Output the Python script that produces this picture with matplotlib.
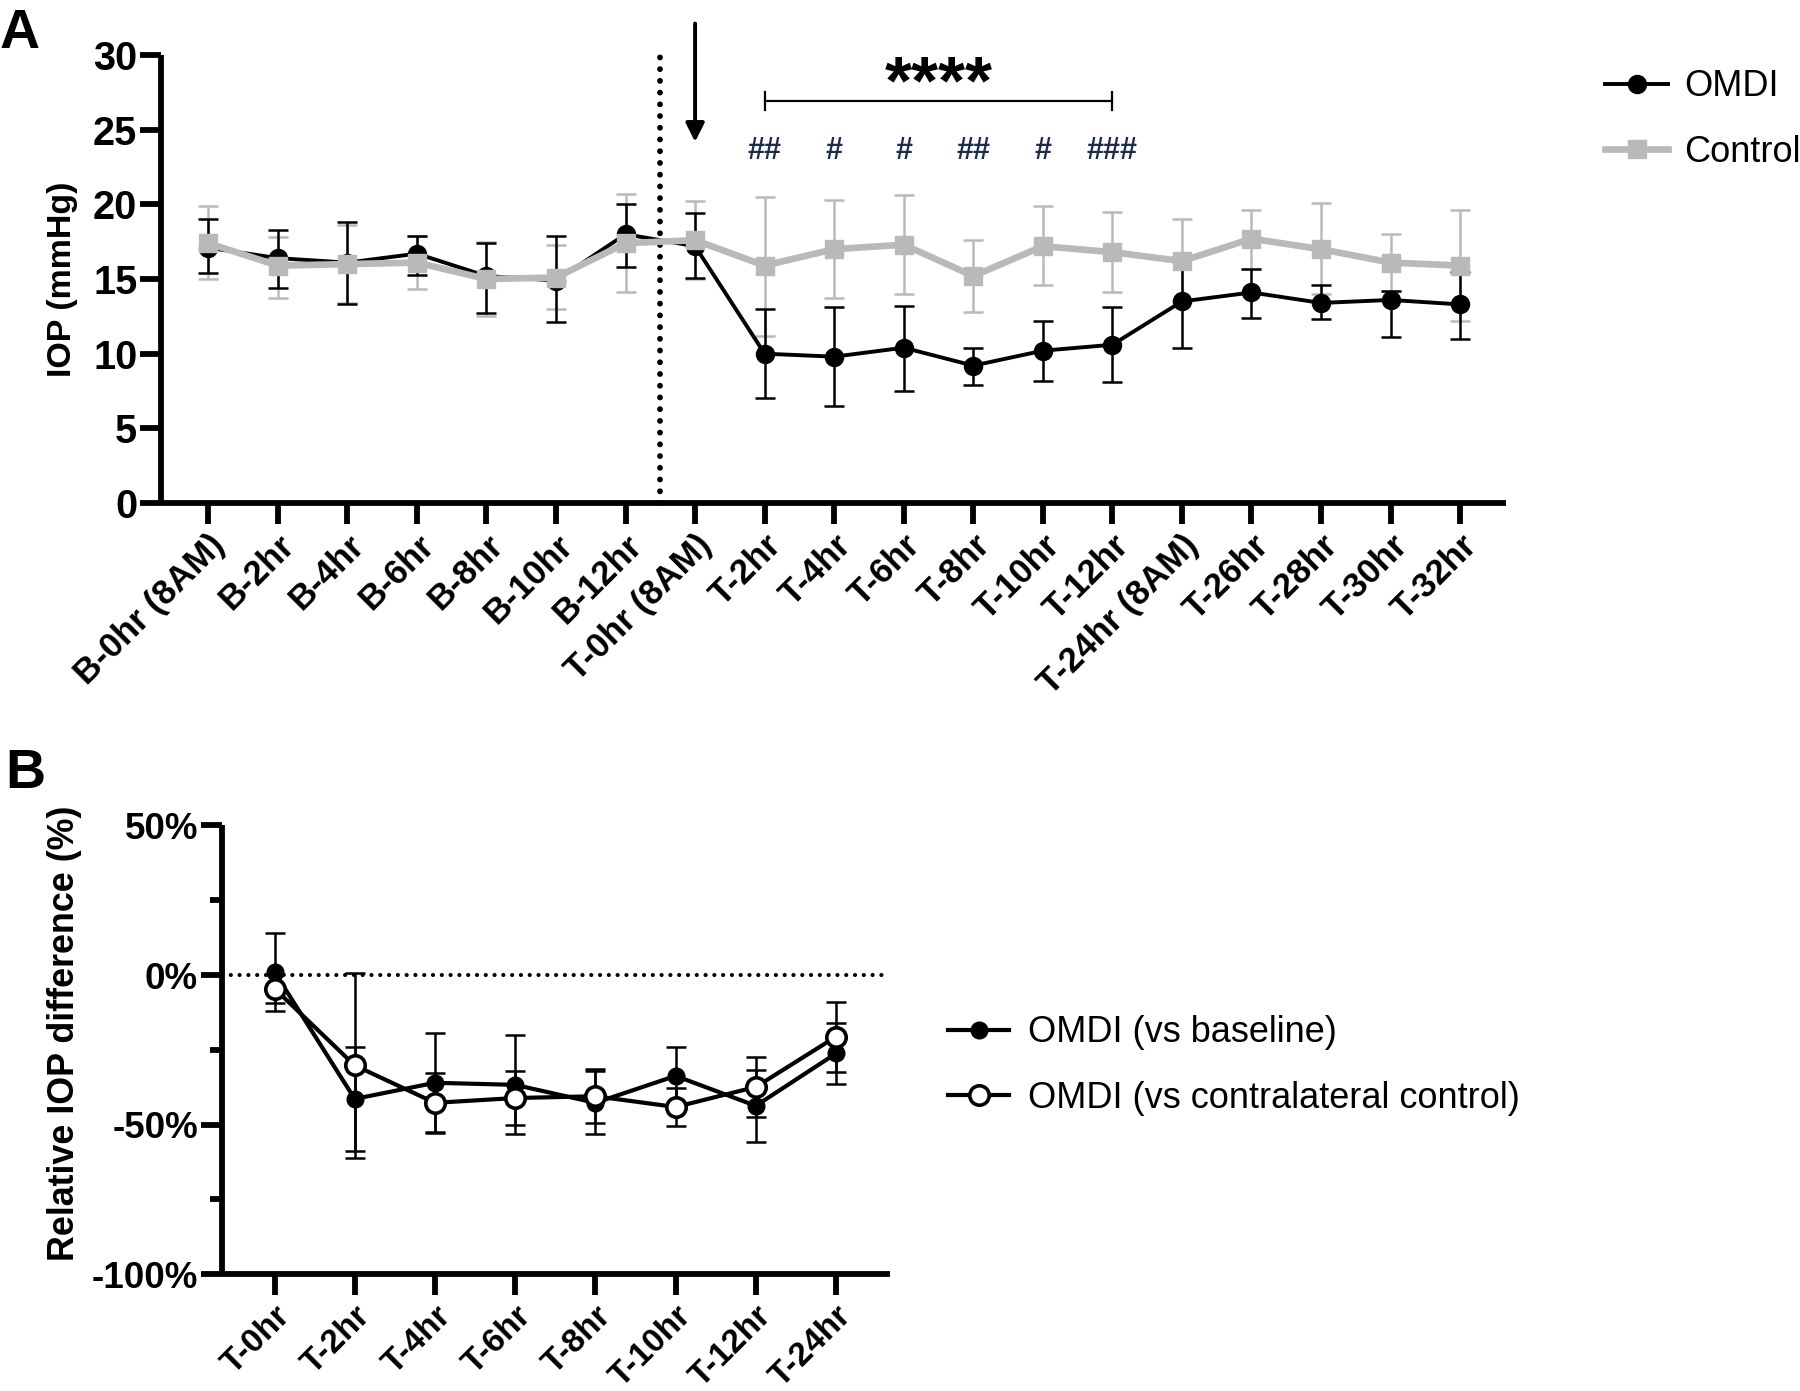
import numpy as np
import matplotlib
matplotlib.use("Agg")
import matplotlib.pyplot as plt
from matplotlib.lines import Line2D

plt.rcParams["font.family"] = ["Liberation Sans", "DejaVu Sans"]

# ---- panel A data (IOP, mmHg) ----
time_labels = ["B-0hr (8AM)", "B-2hr", "B-4hr", "B-6hr", "B-8hr", "B-10hr", "B-12hr",
               "T-0hr (8AM)", "T-2hr", "T-4hr", "T-6hr", "T-8hr", "T-10hr", "T-12hr",
               "T-24hr (8AM)", "T-26hr", "T-28hr", "T-30hr", "T-32hr"]
omdi_mean = [17.1, 16.4, 16.1, 16.7, 15.2, 14.9, 18.0, 17.2, 10.0, 9.8, 10.4, 9.2, 10.2, 10.6,
             13.5, 14.1, 13.4, 13.6, 13.3]
omdi_hi = [19.0, 18.3, 18.8, 17.9, 17.4, 17.9, 20.0, 19.4, 13.0, 13.1, 13.2, 10.4, 12.2, 13.1,
           16.5, 15.7, 14.6, 14.2, 15.5]
omdi_lo = [15.4, 14.4, 13.3, 15.3, 12.7, 12.1, 15.8, 15.1, 7.0, 6.5, 7.5, 7.9, 8.2, 8.1,
           10.4, 12.4, 12.3, 11.1, 11.0]
ctrl_mean = [17.4, 15.9, 16.0, 16.1, 15.0, 15.1, 17.4, 17.6, 15.9, 17.0, 17.3, 15.2, 17.2, 16.8,
             16.2, 17.7, 17.0, 16.1, 15.9]
ctrl_hi = [19.9, 17.8, 18.6, 17.9, 17.5, 17.3, 20.7, 20.2, 20.5, 20.3, 20.6, 17.6, 19.9, 19.5,
           19.0, 19.6, 20.1, 18.0, 19.6]
ctrl_lo = [15.0, 13.7, 13.4, 14.3, 12.5, 13.0, 14.1, 15.0, 11.2, 13.7, 14.0, 12.8, 14.6, 14.1,
           13.5, 15.7, 14.0, 14.2, 12.2]
hash_marks = ["##", "#", "#", "##", "#", "###"]  # above T-2hr ... T-12hr

# ---- panel B data (relative IOP difference, %) ----
rel_labels = ["T-0hr", "T-2hr", "T-4hr", "T-6hr", "T-8hr", "T-10hr", "T-12hr", "T-24hr"]
vs_base_mean = [1, -41.4, -36.0, -36.7, -42.7, -33.7, -43.7, -26.2]
vs_base_err = [13, 17.5, 16.5, 16.5, 10.5, 9.5, 12, 10.2]
vs_contra_mean = [-4.5, -30.2, -42.7, -41.1, -40.5, -44.1, -37.4, -20.6]
vs_contra_err = [5, 31, 10, 9, 9, 6.5, 10, 11.7]

GREY = "#b9b9b9"
NAVY = "#1b2c4e"

fig = plt.figure(figsize=(18, 13.91), dpi=100)


def style_axes(ax, yt_size):
    for s in ["top", "right"]:
        ax.spines[s].set_visible(False)
    for s in ["left", "bottom"]:
        ax.spines[s].set_linewidth(4.2)
        ax.spines[s].set_capstyle("butt")
    ax.tick_params(axis="both", which="major", width=4.2, length=15, direction="out")
    ax.tick_params(axis="y", which="minor", width=4.2, length=9, direction="out")
    ax.tick_params(axis="y", which="major", labelsize=yt_size, pad=2)
    for t in ax.get_yticklabels():
        t.set_fontweight("bold")


# ================= Panel A =================
axA = fig.add_axes([0.0894, 0.6384, 0.7473, 0.3220])
x = np.arange(len(time_labels))
om = np.array(omdi_mean)
cm = np.array(ctrl_mean)

axA.errorbar(x, cm, yerr=[cm - np.array(ctrl_lo), np.array(ctrl_hi) - cm], fmt="none",
             ecolor=GREY, elinewidth=1.8, capsize=7, capthick=1.8, zorder=2)
axA.errorbar(x, om, yerr=[om - np.array(omdi_lo), np.array(omdi_hi) - om], fmt="none",
             ecolor="black", elinewidth=1.8, capsize=7, capthick=1.8, zorder=3)
axA.plot(x, om, color="black", lw=2.8, marker="o", ms=13, zorder=4, label="OMDI")
axA.plot(x, cm, color=GREY, lw=4.8, marker="s", ms=13, zorder=5, label="Control")

axA.set_xlim(-0.68, 18.66)
axA.set_ylim(0, 30)
axA.set_yticks([0, 5, 10, 15, 20, 25, 30])
axA.set_xticks(x)
axA.set_xticklabels(time_labels, rotation=45, ha="right", va="top", rotation_mode="anchor",
                    fontsize=25, fontweight="bold")
axA.set_ylabel("IOP (mmHg)", fontsize=24.5, fontweight="bold")
axA.yaxis.set_label_coords(-0.062, 0.5)
style_axes(axA, 28.5)

# treatment boundary and annotations
axA.plot([6.5, 6.5], [0, 30.3], color="black", lw=4.2, ls=(0, (0.01, 2.0)),
         dash_capstyle="round", clip_on=False, zorder=1)
axA.annotate("", xy=(7, 24.0), xytext=(7, 32.3),
             arrowprops=dict(arrowstyle="-|>", color="black", lw=2.8, mutation_scale=28),
             annotation_clip=False)
axA.plot([8, 13], [26.9, 26.9], color="black", lw=1.6, clip_on=False)
for xe in (8, 13):
    axA.plot([xe, xe], [26.3, 27.5], color="black", lw=1.6, clip_on=False)
axA.text(10.5, 28.0, "****", ha="center", va="center", fontsize=50, fontweight="bold",
         clip_on=False)
for i, h in enumerate(hash_marks):
    axA.text(8 + i, 23.6, h, ha="center", va="center", fontsize=22, fontweight="bold",
             color=NAVY, clip_on=False)

handlesA = [Line2D([], [], color="black", lw=2.8, marker="o", ms=13),
            Line2D([], [], color=GREY, lw=4.8, marker="s", ms=13)]
fig.legend(handlesA, ["OMDI", "Control"], loc="center left", bbox_to_anchor=(0.8917, 0.914),
           frameon=False, fontsize=26, handlelength=1.75, handletextpad=0.45,
           labelspacing=0.85, borderpad=0, borderaxespad=0)

# ================= Panel B =================
axB = fig.add_axes([0.1231, 0.0839, 0.3712, 0.3227])
xb = np.arange(len(rel_labels))
axB.axhline(0, color="black", lw=3.0, ls=(0, (0.01, 2.1)), dash_capstyle="round", zorder=1)
axB.errorbar(xb, vs_base_mean, yerr=vs_base_err, fmt="none", ecolor="black", elinewidth=1.8,
             capsize=7, capthick=1.8, zorder=2)
axB.errorbar(xb, vs_contra_mean, yerr=vs_contra_err, fmt="none", ecolor="black",
             elinewidth=1.8, capsize=7, capthick=1.8, zorder=2)
axB.plot(xb, vs_base_mean, color="black", lw=3.0, marker="o", ms=12, zorder=3)
axB.plot(xb, vs_contra_mean, color="black", lw=3.0, marker="o", ms=14, mfc="white",
         mec="black", mew=2.6, zorder=4)

axB.set_xlim(-0.66, 7.67)
axB.set_ylim(-100, 50)
axB.set_yticks([-100, -50, 0, 50])
axB.set_yticklabels(["-100%", "-50%", "0%", "50%"])
axB.set_yticks([-75, -25, 25], minor=True)
axB.set_xticks(xb)
axB.set_xticklabels(rel_labels, rotation=45, ha="right", va="top", rotation_mode="anchor",
                    fontsize=24, fontweight="bold")
axB.set_ylabel("Relative IOP difference (%)", fontsize=25.8, fontweight="bold")
axB.yaxis.set_label_coords(-0.209, 0.536)
style_axes(axB, 26.5)

handlesB = [Line2D([], [], color="black", lw=3.0, marker="o", ms=12),
            Line2D([], [], color="black", lw=3.0, marker="o", ms=14, mfc="white", mew=2.6)]
fig.legend(handlesB, ["OMDI (vs baseline)", "OMDI (vs contralateral control)"],
           loc="center left", bbox_to_anchor=(0.5267, 0.234), frameon=False, fontsize=26,
           handlelength=1.7, handletextpad=0.5, labelspacing=0.85, borderpad=0,
           borderaxespad=0)

fig.text(0.0, 0.994, "A", fontsize=40, fontweight="bold", va="top", ha="left")
fig.text(0.003, 0.462, "B", fontsize=40, fontweight="bold", va="top", ha="left")

fig.savefig("out.png", dpi=100)
